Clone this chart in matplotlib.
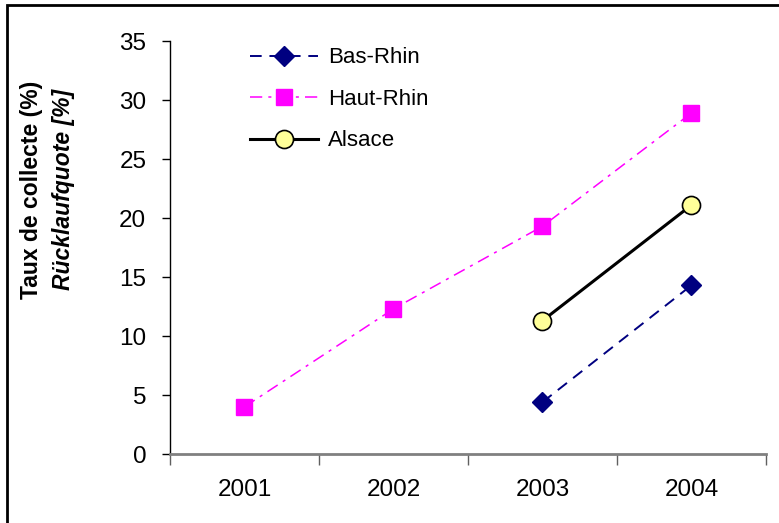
import matplotlib as mpl
mpl.rc('font', family='Liberation Sans', size=17)
import matplotlib.pyplot as plt
from matplotlib.patches import Rectangle

years = ['2001', '2002', '2003', '2004']
bas_rhin_years = [2, 3]          # index into years
bas_rhin = [4.4, 14.3]
haut_rhin_years = [0, 1, 2, 3]
haut_rhin = [4.0, 12.3, 19.3, 28.9]
alsace_years = [2, 3]
alsace = [11.3, 21.1]

fig = plt.figure(figsize=(7.79, 5.23), dpi=100)
ax = fig.add_axes([0.2182, 0.1319, 0.7651, 0.7897])

# frame round the chart (only top and left edges fall inside the image)
fig.patches.append(Rectangle((7/779, -0.1), 1.2, 1 - 4.5/523 + 0.1,
                             transform=fig.transFigure, fill=False,
                             edgecolor='k', linewidth=2))

ax.plot(bas_rhin_years, bas_rhin, color='#000080', ls=(0, (6, 4)), lw=1.4,
        marker='D', markersize=10, markerfacecolor='#000080',
        markeredgecolor='#000080', label='Bas-Rhin')
ax.plot(haut_rhin_years, haut_rhin, color='#FF00FF', ls=(0, (8, 4, 2, 4)), lw=1.1,
        marker='s', markersize=11.5, markerfacecolor='#FF00FF',
        markeredgecolor='#FF00FF', label='Haut-Rhin')
ax.plot(alsace_years, alsace, color='k', ls='-', lw=2.2,
        marker='o', markersize=13, markerfacecolor='#FFFF99',
        markeredgecolor='k', markeredgewidth=1.2, label='Alsace')

ax.set_xlim(-0.5, 3.5)
ax.set_ylim(0, 35)
ax.set_yticks(range(0, 36, 5))
ax.set_xticks([-0.5, 0.5, 1.5, 2.5, 3.5])
ax.set_xticklabels([])
ax.set_xticks(range(4), minor=True)
ax.set_xticklabels(years, minor=True)
ax.tick_params(axis='x', which='minor', length=0, pad=18, labelsize=17.5)
ax.tick_params(axis='x', which='major', length=8, width=1, color='#606060')
ax.tick_params(axis='y', length=6, width=1, pad=11, labelsize=17.5)

for s in ['top', 'right']:
    ax.spines[s].set_visible(False)
ax.spines['bottom'].set_color('#808080')
ax.spines['bottom'].set_linewidth(2)
ax.spines['left'].set_linewidth(1)

fig.text(0.041, 0.637, 'Taux de collecte (%)', rotation=90, fontweight='bold',
         ha='center', va='center', fontsize=16.5)
fig.text(0.082, 0.637, 'Rücklaufquote [%]', rotation=90, fontweight='bold',
         fontstyle='italic', ha='center', va='center', fontsize=16.5)

ax.legend(loc='upper left', bbox_to_anchor=(0.119, 1.006), frameon=False,
          borderaxespad=0, handlelength=3.06, labelspacing=0.92,
          handletextpad=0.45, fontsize=16, numpoints=1)

fig.savefig('out.png', dpi=100)
